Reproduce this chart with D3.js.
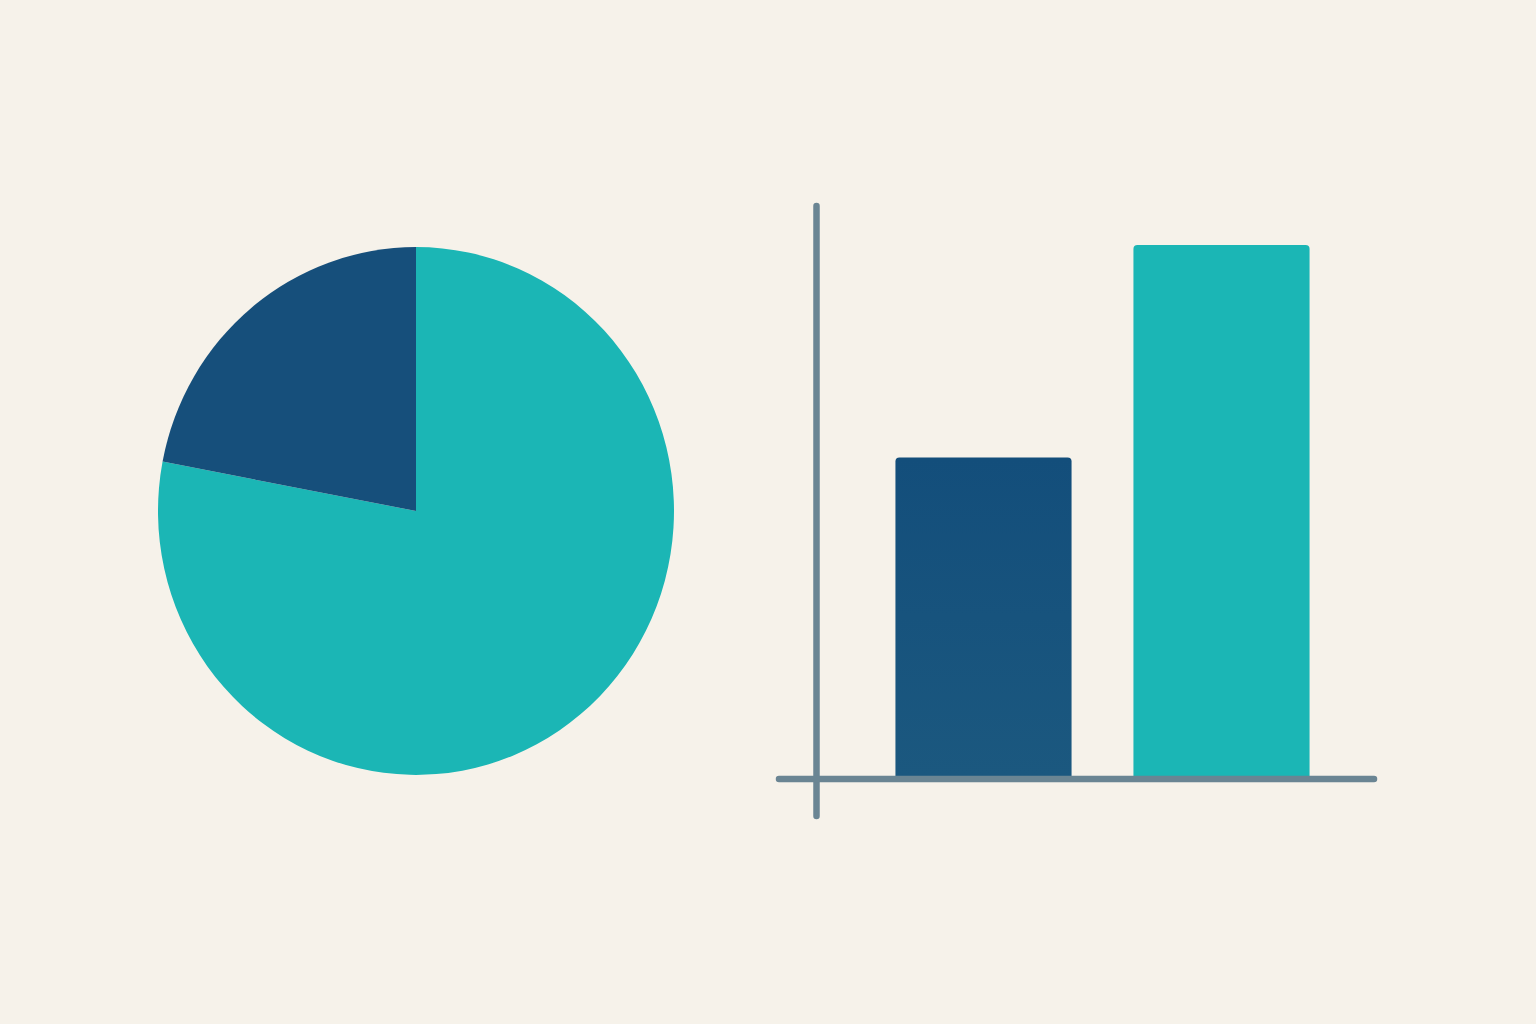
<!DOCTYPE html>
<html><head><meta charset="utf-8">
<script src="https://cdn.jsdelivr.net/npm/d3@7"></script>
<style>html,body{margin:0;padding:0;background:#f6f2ea;}svg{display:block;}</style>
</head><body>
<svg id="chart" width="1536" height="1024"></svg>
<script>
const pieCategories = ["Teal", "Navy"];
const pieValues = [78, 22];
const barCategories = ["Navy", "Teal"];
const barValues = [60, 100];
const colors = {Teal: "#1bb6b5", Navy: "#164f7b"};

const svg = d3.select("#chart");
svg.append("rect").attr("width",1536).attr("height",1024).attr("fill","#f6f2ea");

const defs = svg.append("defs");
const g1 = defs.append("linearGradient").attr("id","navyGrad").attr("x1",0).attr("y1",0).attr("x2",0).attr("y2",1);
g1.append("stop").attr("offset","0%").attr("stop-color","#134e7b");
g1.append("stop").attr("offset","100%").attr("stop-color","#1b587f");

// Pie (slightly taller than wide, as in the reference)
const pie = d3.pie().sort(null).value(d => d.v)(pieCategories.map((c,i)=>({c, v: pieValues[i]})));
const arc = d3.arc().innerRadius(0).outerRadius(258);
svg.append("g").attr("transform","translate(416,511) scale(1,1.023)")
  .selectAll("path").data(pie).join("path")
  .attr("d", arc)
  .attr("fill", d => colors[d.data.c]);

// Bars
const x = d3.scaleBand().domain(barCategories).range([864.5, 1340.5]).paddingInner(0.26).paddingOuter(0.13);
const y = d3.scaleLinear().domain([0, 100]).range([776, 245]);
const r = 4;
svg.append("g").selectAll("path").data(barCategories.map((c,i)=>({c, v: barValues[i]}))).join("path")
  .attr("d", d => {
    const x0 = x(d.c), x1 = x0 + x.bandwidth(), y0 = y(0), y1 = y(d.v);
    return `M${x0},${y0}V${y1+r}Q${x0},${y1} ${x0+r},${y1}H${x1-r}Q${x1},${y1} ${x1},${y1+r}V${y0}Z`;
  })
  .attr("fill", d => d.c === "Navy" ? "url(#navyGrad)" : colors[d.c]);

// Axes (plain lines)
const axisColor = "#6a8593";
svg.append("line").attr("x1",816.5).attr("x2",816.5).attr("y1",206).attr("y2",816)
  .attr("stroke",axisColor).attr("stroke-width",6.5).attr("stroke-linecap","round");
svg.append("line").attr("x1",779).attr("x2",1374).attr("y1",779).attr("y2",779)
  .attr("stroke",axisColor).attr("stroke-width",6.5).attr("stroke-linecap","round");
</script>
</body></html>
